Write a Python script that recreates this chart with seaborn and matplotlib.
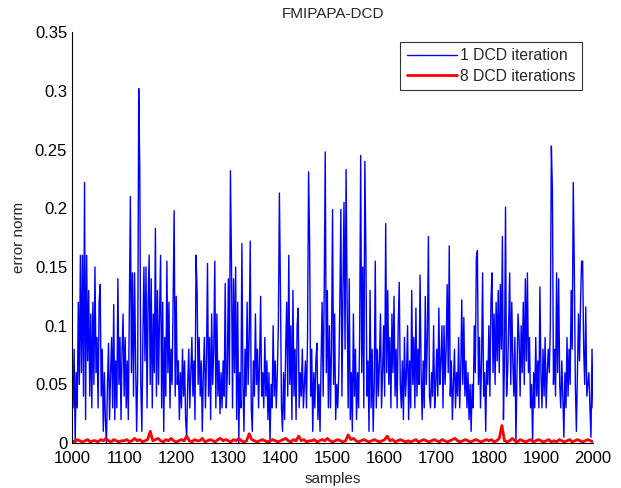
import numpy as np
import pandas as pd
import matplotlib
matplotlib.use('Agg')
import matplotlib.pyplot as plt
from matplotlib.ticker import FuncFormatter
import seaborn as sns

# error norm, 1 DCD iteration (read every 2nd sample, 1000..2000)
err_1dcd = [
    0.07, 0.03, 0.08, 0.0, 0.06, 0.03, 0.12, 0.05, 0.16, 0.06, 0.16, 0.04, 0.222, 0.02, 0.16, 0.07, 0.13, 0.04, 0.11, 0.03, 0.12, 0.05, 0.15, 0.06, 0.09,
    0.03, 0.12, 0.135, 0.04, 0.08, 0.01, 0.06, 0.02, 0.0, 0.05, 0.085, 0.02, 0.06, 0.09, 0.03, 0.118, 0.02, 0.07, 0.03, 0.14, 0.05, 0.09, 0.02, 0.08, 0.11,
    0.04, 0.09, 0.03, 0.07, 0.02, 0.12, 0.21, 0.06, 0.145, 0.04, 0.145, 0.07, 0.01, 0.06, 0.302, 0.233, 0.05, 0.01, 0.09, 0.15, 0.07, 0.15, 0.03, 0.12, 0.16,
    0.05, 0.14, 0.03, 0.11, 0.06, 0.183, 0.04, 0.13, 0.05, 0.11, 0.16, 0.03, 0.12, 0.01, 0.09, 0.04, 0.155, 0.06, 0.12, 0.03, 0.08, 0.05, 0.12, 0.198, 0.04,
    0.125, 0.05, 0.07, 0.02, 0.06, 0.03, 0.08, 0.04, 0.07, 0.02, 0.005, 0.05, 0.08, 0.03, 0.06, 0.09, 0.04, 0.07, 0.02, 0.16, 0.13, 0.05, 0.09, 0.04, 0.07,
    0.01, 0.06, 0.09, 0.03, 0.07, 0.153, 0.04, 0.09, 0.02, 0.11, 0.05, 0.08, 0.155, 0.03, 0.11, 0.04, 0.07, 0.025, 0.06, 0.03, 0.07, 0.04, 0.136, 0.03, 0.06,
    0.14, 0.05, 0.232, 0.155, 0.03, 0.14, 0.06, 0.15, 0.02, 0.12, 0.0, 0.06, 0.03, 0.17, 0.05, 0.01, 0.08, 0.04, 0.12, 0.05, 0.09, 0.172, 0.03, 0.01, 0.07,
    0.04, 0.11, 0.05, 0.08, 0.03, 0.07, 0.125, 0.04, 0.06, 0.03, 0.09, 0.04, 0.07, 0.02, 0.06, 0.0, 0.05, 0.03, 0.1, 0.04, 0.07, 0.03, 0.06, 0.1, 0.213,
    0.13, 0.03, 0.01, 0.06, 0.02, 0.08, 0.12, 0.04, 0.16, 0.05, 0.1, 0.02, 0.13, 0.04, 0.08, 0.02, 0.1, 0.115, 0.03, 0.06, 0.04, 0.08, 0.03, 0.05, 0.07,
    0.03, 0.09, 0.231, 0.172, 0.04, 0.08, 0.01, 0.06, 0.03, 0.07, 0.085, 0.02, 0.05, 0.01, 0.07, 0.12, 0.04, 0.13, 0.248, 0.06, 0.13, 0.03, 0.1, 0.03, 0.08,
    0.199, 0.05, 0.11, 0.02, 0.05, 0.03, 0.06, 0.12, 0.199, 0.04, 0.13, 0.205, 0.08, 0.233, 0.12, 0.03, 0.14, 0.02, 0.06, 0.01, 0.11, 0.04, 0.08, 0.02, 0.06,
    0.03, 0.09, 0.245, 0.06, 0.15, 0.03, 0.24, 0.163, 0.04, 0.07, 0.01, 0.13, 0.03, 0.08, 0.01, 0.05, 0.155, 0.03, 0.08, 0.04, 0.07, 0.11, 0.03, 0.06, 0.1,
    0.04, 0.187, 0.06, 0.13, 0.05, 0.09, 0.03, 0.11, 0.06, 0.125, 0.04, 0.08, 0.03, 0.1, 0.137, 0.05, 0.03, 0.07, 0.02, 0.09, 0.04, 0.06, 0.1, 0.02, 0.07,
    0.03, 0.13, 0.05, 0.09, 0.03, 0.115, 0.04, 0.08, 0.05, 0.143, 0.06, 0.02, 0.07, 0.03, 0.125, 0.05, 0.09, 0.176, 0.04, 0.03, 0.06, 0.04, 0.1, 0.03, 0.05,
    0.08, 0.04, 0.115, 0.05, 0.07, 0.1, 0.03, 0.1, 0.05, 0.08, 0.135, 0.06, 0.168, 0.04, 0.07, 0.02, 0.05, 0.08, 0.03, 0.06, 0.04, 0.09, 0.03, 0.06, 0.122,
    0.05, 0.107, 0.04, 0.07, 0.03, 0.06, 0.02, 0.05, 0.01, 0.05, 0.03, 0.1, 0.06, 0.158, 0.164, 0.05, 0.09, 0.03, 0.07, 0.145, 0.04, 0.06, 0.01, 0.07, 0.05,
    0.1, 0.04, 0.12, 0.145, 0.06, 0.11, 0.05, 0.12, 0.07, 0.13, 0.06, 0.135, 0.08, 0.176, 0.02, 0.07, 0.201, 0.04, 0.06, 0.1, 0.145, 0.05, 0.12, 0.07, 0.04,
    0.09, 0.0, 0.06, 0.11, 0.09, 0.04, 0.1, 0.06, 0.12, 0.05, 0.14, 0.07, 0.145, 0.06, 0.09, 0.03, 0.05, 0.0, 0.06, 0.03, 0.09, 0.04, 0.07, 0.03, 0.133,
    0.06, 0.03, 0.08, 0.04, 0.09, 0.03, 0.06, 0.08, 0.06, 0.1, 0.253, 0.215, 0.05, 0.08, 0.04, 0.145, 0.06, 0.14, 0.05, 0.03, 0.07, 0.04, 0.005, 0.06, 0.03,
    0.09, 0.04, 0.08, 0.05, 0.13, 0.08, 0.222, 0.15, 0.05, 0.01, 0.06, 0.11, 0.07, 0.12, 0.155, 0.155, 0.08, 0.05, 0.116, 0.04, 0.05, 0.06, 0.03, 0.005, 0.08,
    0.03,
]
samples_1dcd = np.arange(1000, 2001, 2)

# error norm, 8 DCD iterations (read every 5th sample)
err_8dcd = [
    0.002, 0.001, 0.003, 0.002, 0.001, 0.002, 0.003, 0.001, 0.002, 0.002, 0.001, 0.003, 0.002, 0.004, 0.002, 0.001, 0.003, 0.002, 0.001, 0.002,
    0.002, 0.003, 0.001, 0.002, 0.004, 0.002, 0.003, 0.001, 0.002, 0.003, 0.010, 0.002, 0.003, 0.004, 0.002, 0.001, 0.003, 0.002, 0.004, 0.002,
    0.001, 0.002, 0.003, 0.002, 0.006, 0.002, 0.001, 0.003, 0.002, 0.002, 0.004, 0.001, 0.002, 0.003, 0.002, 0.001, 0.003, 0.004, 0.002, 0.003,
    0.002, 0.001, 0.003, 0.002, 0.004, 0.002, 0.001, 0.002, 0.008, 0.003, 0.002, 0.001, 0.002, 0.003, 0.002, 0.001, 0.002, 0.003, 0.002, 0.001,
    0.002, 0.003, 0.004, 0.002, 0.001, 0.003, 0.002, 0.006, 0.002, 0.003, 0.001, 0.002, 0.002, 0.003, 0.001, 0.002, 0.003, 0.002, 0.004, 0.002,
    0.001, 0.002, 0.003, 0.002, 0.001, 0.002, 0.007, 0.003, 0.004, 0.002, 0.001, 0.002, 0.003, 0.002, 0.001, 0.002, 0.003, 0.002, 0.001, 0.002,
    0.003, 0.006, 0.002, 0.003, 0.001, 0.002, 0.003, 0.002, 0.001, 0.002, 0.001, 0.002, 0.003, 0.001, 0.002, 0.003, 0.002, 0.001, 0.002, 0.003,
    0.002, 0.001, 0.003, 0.002, 0.001, 0.002, 0.003, 0.004, 0.002, 0.001, 0.002, 0.003, 0.002, 0.001, 0.002, 0.003, 0.002, 0.001, 0.002, 0.003,
    0.002, 0.003, 0.001, 0.002, 0.004, 0.015, 0.002, 0.001, 0.002, 0.004, 0.002, 0.001, 0.003, 0.002, 0.001, 0.002, 0.003, 0.001, 0.002, 0.003,
    0.002, 0.001, 0.002, 0.003, 0.001, 0.002, 0.001, 0.003, 0.002, 0.001, 0.002, 0.003, 0.001, 0.002, 0.003, 0.002, 0.001, 0.002, 0.003, 0.002,
    0.001,
]
samples_8dcd = np.arange(1000, 2001, 5)

x_ticks = [1000, 1100, 1200, 1300, 1400, 1500, 1600, 1700, 1800, 1900, 2000]
y_ticks = [0, 0.05, 0.1, 0.15, 0.2, 0.25, 0.3, 0.35]

df1 = pd.DataFrame({'samples': samples_1dcd, 'err': err_1dcd})
df8 = pd.DataFrame({'samples': samples_8dcd, 'err': err_8dcd})

sns.set_style('white')
plt.rcParams['font.family'] = ['Liberation Sans', 'DejaVu Sans']

fig = plt.figure(figsize=(6.21, 4.88), dpi=100)
ax = fig.add_axes([0.116, 0.092, 0.839, 0.842])

sns.lineplot(data=df1, x='samples', y='err', color='#0000ff', linewidth=1.0,
             estimator=None, label='1 DCD iteration', ax=ax)
sns.lineplot(data=df8, x='samples', y='err', color='#ff0000', linewidth=2,
             estimator=None, label='8 DCD iterations', ax=ax)

ax.set_xlim(1000, 2000)
ax.set_ylim(0, 0.35)
ax.set_xticks(x_ticks)
ax.set_yticks(y_ticks)
ax.yaxis.set_major_formatter(FuncFormatter(lambda v, p: f'{v:g}'))
ax.tick_params(direction='in', length=5, width=0.8, labelsize=12, colors='black')
ax.tick_params(axis='x', pad=6)
for s in ['top', 'right']:
    ax.spines[s].set_visible(False)
for s in ['left', 'bottom']:
    ax.spines[s].set_color('black')
    ax.spines[s].set_linewidth(0.8)

ax.set_title('FMIPAPA-DCD', fontsize=11, pad=10)
ax.set_xlabel('samples', fontsize=11, labelpad=4)
ax.set_ylabel('error norm', fontsize=11, labelpad=6)

leg = ax.legend(loc='upper right', bbox_to_anchor=(0.937, 0.914), bbox_transform=fig.transFigure,
                fontsize=11.3, frameon=True, fancybox=False, borderpad=0.4, handlelength=3.2,
                handletextpad=0.2, labelspacing=0.35, borderaxespad=0)
leg.get_frame().set_edgecolor('black')
leg.get_frame().set_linewidth(0.8)

fig.savefig('out.png', dpi=100)
